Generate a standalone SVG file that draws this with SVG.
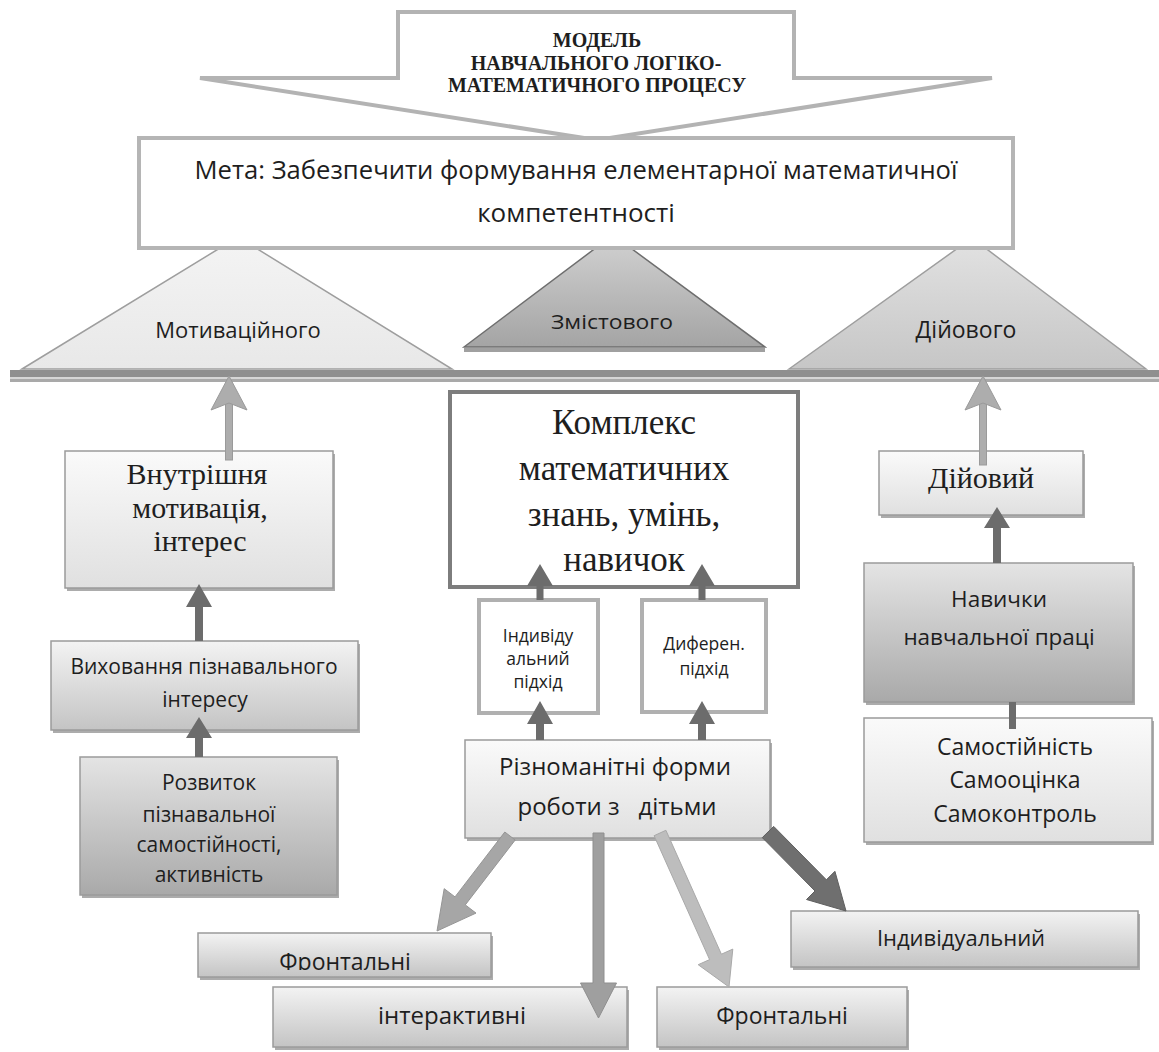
<svg xmlns="http://www.w3.org/2000/svg" width="1159" height="1052" viewBox="0 0 1159 1052">
<style>
.serif{font-family:"Liberation Serif","DejaVu Serif",serif;fill:#1e1e1e;text-anchor:middle}
.sans{font-family:"Open Sans","Noto Sans","DejaVu Sans",sans-serif;fill:#1e1e1e;text-anchor:middle}
.bx{stroke:#9b9b9b;stroke-width:1.5}
.sh{fill:#acacac}
.dk{fill:#6c6c6c}
.lt{fill:#adadad;stroke:#9a9a9a;stroke-width:1}
</style>
<defs>
<linearGradient id="gLight" x1="0" y1="0" x2="0" y2="1"><stop offset="0" stop-color="#fafafa"/><stop offset="1" stop-color="#e0e0e0"/></linearGradient>
<linearGradient id="gMid" x1="0" y1="0" x2="0" y2="1"><stop offset="0" stop-color="#f3f3f3"/><stop offset="1" stop-color="#c4c4c4"/></linearGradient>
<linearGradient id="gDark" x1="0" y1="0" x2="0" y2="1"><stop offset="0" stop-color="#e4e4e4"/><stop offset="1" stop-color="#a9a9a9"/></linearGradient>
<linearGradient id="tL" x1="0" y1="0" x2="0" y2="1"><stop offset="0" stop-color="#f4f4f4"/><stop offset="1" stop-color="#e8e8e8"/></linearGradient>
<linearGradient id="tM" x1="0" y1="0" x2="0" y2="1"><stop offset="0" stop-color="#d2d2d2"/><stop offset="1" stop-color="#a4a4a4"/></linearGradient>
<linearGradient id="tR" x1="0" y1="0" x2="0" y2="1"><stop offset="0" stop-color="#e2e2e2"/><stop offset="1" stop-color="#c6c6c6"/></linearGradient>
<clipPath id="clipF"><rect x="198" y="933" width="293" height="37"/></clipPath>
</defs>
<rect width="1159" height="1052" fill="#ffffff"/>

<g id="title">
<path d="M398,12 H794 V78 H992 L597,140 L200,78 H398 Z" fill="#ffffff" stroke="#b3b3b3" stroke-width="4"/>
<text class="serif" font-weight="bold" font-size="20" x="597" y="47">МОДЕЛЬ</text>
<text class="serif" font-weight="bold" font-size="20" x="596" y="70">НАВЧАЛЬНОГО ЛОГІКО-</text>
<text class="serif" font-weight="bold" font-size="20" x="597" y="92">МАТЕМАТИЧНОГО ПРОЦЕСУ</text>
</g>

<g id="tri-motiv">
<polygon points="22,369 238,237 452,369" fill="url(#tL)" stroke="#9e9e9e" stroke-width="1.5"/>
<text class="sans" font-size="22" x="238" y="338">Мотиваційного</text>
</g>
<g id="tri-zmist">
<rect x="464" y="348" width="301" height="4" fill="#a0a0a0"/>
<polygon points="464,347 613,235 765,347" fill="url(#tM)" stroke="#6e6e6e" stroke-width="1.5"/>
<text class="sans" font-size="20" x="612" y="329" textLength="122" lengthAdjust="spacingAndGlyphs">Змістового</text>
</g>
<g id="tri-diy">
<polygon points="789,369 972,238 1146,369" fill="url(#tR)" stroke="#9e9e9e" stroke-width="1.5"/>
<text class="sans" font-size="23" x="966" y="338">Дійового</text>
</g>

<g id="goal">
<rect x="139" y="138" width="874" height="110" fill="#ffffff" stroke="#b5b5b5" stroke-width="4"/>
<text class="sans" font-size="26" x="576" y="179" textLength="763" lengthAdjust="spacingAndGlyphs">Мета: Забезпечити формування елементарної математичної</text>
<text class="sans" font-size="26" x="576" y="222">компетентності</text>
</g>

<g id="bar">
<rect x="10" y="370" width="1149" height="7" fill="#8f8f8f"/>
<rect x="10" y="377" width="1149" height="2" fill="#d6d6d6"/>
<rect x="10" y="379" width="1149" height="3" fill="#a9a9a9"/>
</g>

<g id="n-vnutr">
<rect x="67" y="454" width="268" height="137" class="sh"/>
<rect x="65" y="451" width="268" height="137" fill="url(#gLight)" class="bx"/>
<text class="serif" font-size="30" x="197" y="484">Внутрішня</text>
<text class="serif" font-size="30" x="200" y="518">мотивація,</text>
<text class="serif" font-size="30" x="200" y="551">інтерес</text>
</g>

<g id="n-vyhov">
<rect x="53" y="644" width="307" height="89" class="sh"/>
<rect x="51" y="641" width="307" height="89" fill="url(#gMid)" class="bx"/>
<text class="sans" font-size="21" x="204" y="674">Виховання пізнавального</text>
<text class="sans" font-size="21" x="205" y="707">інтересу</text>
</g>

<g id="n-rozv">
<rect x="82" y="760" width="257" height="138" class="sh"/>
<rect x="80" y="757" width="257" height="138" fill="url(#gDark)" class="bx"/>
<text class="sans" font-size="21" x="209" y="790">Розвиток</text>
<text class="sans" font-size="21" x="209" y="822">пізнавальної</text>
<text class="sans" font-size="21" x="209" y="852">самостійності,</text>
<text class="sans" font-size="21" x="209" y="882">активність</text>
</g>

<g id="n-kompleks">
<rect x="450" y="392" width="348" height="195" fill="#ffffff" stroke="#7d7d7d" stroke-width="4"/>
<text class="serif" font-size="35" x="624" y="434">Комплекс</text>
<text class="serif" font-size="35" x="624" y="480">математичних</text>
<text class="serif" font-size="35" x="624" y="526">знань, умінь,</text>
<text class="serif" font-size="35" x="624" y="571">навичок</text>
</g>

<g id="n-indyv">
<rect x="479" y="600" width="119" height="113" fill="#ffffff" stroke="#b0b0b0" stroke-width="4"/>
<text class="sans" font-size="17.5" x="538" y="642">Індивіду</text>
<text class="sans" font-size="17.5" x="538" y="665">альний</text>
<text class="sans" font-size="17.5" x="538" y="688">підхід</text>
</g>

<g id="n-dyfer">
<rect x="642" y="600" width="124" height="112" fill="#ffffff" stroke="#b0b0b0" stroke-width="4"/>
<text class="sans" font-size="17.5" x="704" y="650">Диферен.</text>
<text class="sans" font-size="17.5" x="704" y="675">підхід</text>
</g>

<g id="n-forms">
<rect x="467" y="743" width="305" height="98" class="sh"/>
<rect x="465" y="740" width="305" height="98" fill="url(#gLight)" class="bx"/>
<text class="sans" font-size="24" x="615" y="775">Різноманітні форми</text>
<text class="sans" font-size="24" x="617" y="815" xml:space="preserve">роботи з   дітьми</text>
</g>

<g id="n-diyovyi">
<rect x="881" y="454" width="204" height="64" class="sh"/>
<rect x="879" y="451" width="204" height="64" fill="url(#gLight)" class="bx"/>
<text class="serif" font-size="30" x="981" y="488">Дійовий</text>
</g>

<g id="n-navychky">
<rect x="866" y="566" width="269" height="139" class="sh"/>
<rect x="864" y="563" width="269" height="139" fill="url(#gDark)" class="bx"/>
<text class="sans" font-size="22.5" x="999" y="607">Навички</text>
<text class="sans" font-size="22.5" x="999" y="645">навчальної праці</text>
</g>

<g id="n-samo">
<rect x="866" y="721" width="288" height="124" class="sh"/>
<rect x="864" y="718" width="288" height="124" fill="url(#gLight)" class="bx"/>
<text class="sans" font-size="23" x="1015" y="755">Самостійність</text>
<text class="sans" font-size="23" x="1015" y="788">Самооцінка</text>
<text class="sans" font-size="23" x="1015" y="822">Самоконтроль</text>
</g>

<g id="n-front1">
<rect x="200" y="936" width="293" height="44" class="sh"/>
<rect x="198" y="933" width="293" height="44" fill="url(#gMid)" class="bx"/>
<text class="sans" font-size="23" x="345" y="970" clip-path="url(#clipF)">Фронтальні</text>
</g>

<g id="n-inter">
<rect x="275" y="990" width="354" height="60" class="sh"/>
<rect x="273" y="987" width="354" height="60" fill="url(#gMid)" class="bx"/>
<text class="sans" font-size="24" x="452" y="1024">інтерактивні</text>
</g>

<g id="n-front2">
<rect x="659" y="990" width="250" height="60" class="sh"/>
<rect x="657" y="987" width="250" height="60" fill="url(#gMid)" class="bx"/>
<text class="sans" font-size="23" x="782" y="1024">Фронтальні</text>
</g>

<g id="n-indyvid">
<rect x="793" y="914" width="347" height="56" class="sh"/>
<rect x="791" y="911" width="347" height="56" fill="url(#gMid)" class="bx"/>
<text class="sans" font-size="22" x="961" y="946">Індивідуальний</text>
</g>

<g id="connectors">
<rect x="225.5" y="400" width="7" height="60" class="lt"/>
<polygon points="229,376 247,410 229,403 211,410" class="lt"/>
<rect x="979.5" y="400" width="7" height="65" class="lt"/>
<polygon points="983,376 1001,410 983,403 965,410" class="lt"/>
<polygon class="dk" points="195,641 195,607 186,607 199,584 212,607 203,607 203,641"/>
<polygon class="dk" points="195,757 195,738 186,738 199,717 212,738 203,738 203,757"/>
<polygon class="dk" points="536.5,600 536.5,586 527,586 540,564 553,586 543.5,586 543.5,600"/>
<polygon class="dk" points="698.5,600 698.5,586 689,586 702,564 715,586 705.5,586 705.5,600"/>
<polygon class="dk" points="536,740 536,724 527,724 540,701 553,724 544,724 544,740"/>
<polygon class="dk" points="698,740 698,724 689,724 702,701 715,724 706,724 706,740"/>
<polygon class="dk" points="993,563 993,528 984,528 997,507 1010,528 1001,528 1001,563"/>
<rect x="1009" y="702" width="7" height="27" class="dk"/>
<polygon points="504.8,832 455,896.9 444.2,888.7 437,931 476,913.1 465.3,904.9 515.2,840" fill="#a6a6a6" stroke="#959595" stroke-width="1"/>
<polygon points="593,833 593,983 580.5,983 598.5,1018 616.5,983 604,983 604,833" fill="#9f9f9f" stroke="#8f8f8f" stroke-width="1"/>
<polygon points="654.1,835.7 709.6,959.6 698.2,964.7 729,987 732.8,949.1 721.4,954.2 665.9,830.3" fill="#bdbdbd" stroke="#a9a9a9" stroke-width="1"/>
<polygon points="762.3,837.6 815,891 806.5,899.5 846,911 834.9,871.3 826.4,879.8 773.7,826.4" fill="#6f6f6f" stroke="#5f5f5f" stroke-width="1"/>
</g>
</svg>
